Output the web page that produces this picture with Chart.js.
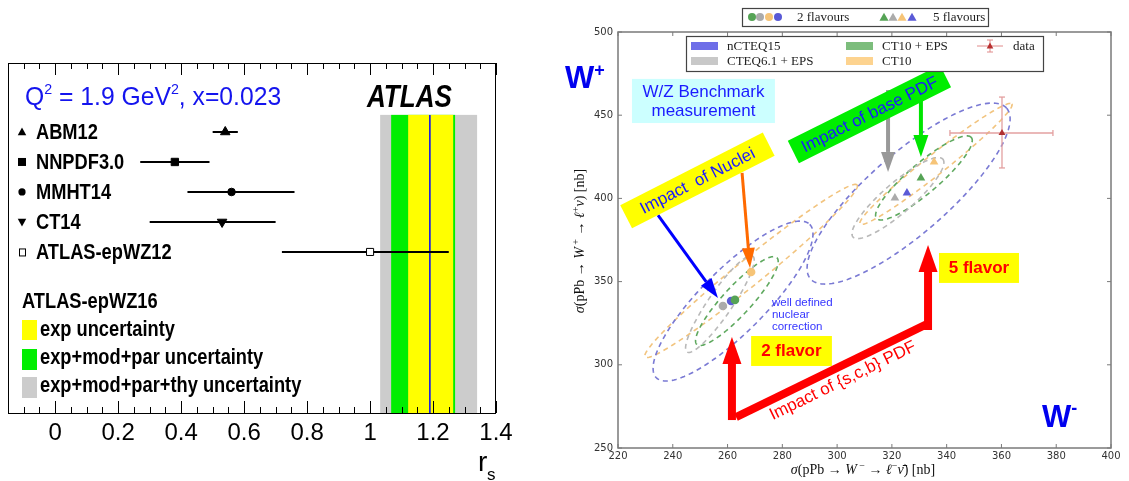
<!DOCTYPE html>
<html><head><meta charset="utf-8">
<script src="https://cdn.jsdelivr.net/npm/chart.js@4.4.1/dist/chart.umd.min.js"></script>
<style>
html,body{margin:0;padding:0;background:#fff;width:1129px;height:481px;overflow:hidden}
#l{position:absolute;left:0;top:0;width:520px;height:481px}
#r{position:absolute;left:560px;top:0;width:569px;height:481px}
canvas{display:block}
</style></head><body>
<div id="l"><canvas id="cl" width="520" height="481"></canvas></div>
<div id="r"><canvas id="cr" width="569" height="481"></canvas></div>
<script>
// ---------- LEFT PANEL DATA (r_s) ----------
const models = ['ABM12','NNPDF3.0','MMHT14','CT14','ATLAS-epWZ12'];
const rsCentral = [0.54, 0.38, 0.56, 0.53, 1.00];
const rsLow     = [0.50, 0.27, 0.42, 0.30, 0.72];
const rsHigh    = [0.58, 0.49, 0.76, 0.70, 1.25];
const rsFit = 1.19;
const bandExp    = [1.121, 1.264];
const bandModPar = [1.067, 1.270];
const bandThy    = [1.032, 1.340];
const bandTopRow = -0.57;
const rsTicks = [0, 0.2, 0.4, 0.6, 0.8, 1, 1.2, 1.4];
const rsTickLabels = ['0','0.2','0.4','0.6','0.8','1','1.2','1.4'];

// ---------- RIGHT PANEL DATA (W+ vs W-) ----------
const pdfNames = ['nCTEQ15','CTEQ6.1 + EPS','CT10 + EPS','CT10'];
const xs2fl = [261.3, 258.3, 262.7, 268.6];
const ys2fl = [338.3, 335.3, 339.0, 355.8];
const xs5fl = [325.5, 321.1, 330.6, 335.4];
const ys5fl = [403.2, 400.2, 412.3, 421.9];
const dataXY = [360.2, 439.3];
const dataXRange = [341.2, 378.8];
const dataYRange = [418.3, 460.9];
// ellipse contours: centre, conjugate half-axis vectors A and B (data units)
const ell2CX = [262.0, 257.2, 263.4, 268.6];
const ell2CY = [338.3, 336.5, 338.3, 356.4];
const ell2AX = [28.0, 12.0, 14.6, 38.7];
const ell2AY = [46.1, 28.8, 26.1, 51.7];
const ell2BX = [8.25, 3.6, 3.8, 3.0];
const ell2BY = [-13.6, -4.1, -5.7, -6.1];
const ell5CX = [326.1, 322.2, 331.7, 336.1];
const ell5CY = [402.9, 400.2, 412.3, 420.7];
const ell5AX = [35.8, 16.4, 17.3, 27.7];
const ell5AY = [51.3, 23.4, 24.3, 36.1];
const ell5BX = [9.6, 3.6, 3.5, 2.3];
const ell5BY = [-18.1, -6.8, -6.9, -4.7];
const wmTicks = [220,240,260,280,300,320,340,360,380,400];
const wpTicks = [250,300,350,400,450,500];

// colours per PDF (nCTEQ15, CTEQ6.1+EPS, CT10+EPS, CT10)
const ptColors   = ['#5a5ad6','#ababab','#55a355','#f6c477'];
const ellColors  = ['#7a7ad4','#b9b9b9','#5fa95f','#f2c47f'];
const legColors  = ['#6e6ee8','#c8c8c8','#7cbd7c','#fdd38f'];

// ---------- helpers ----------
function txt(ctx, s, x, y, font, color, o) {
  o = o || {};
  ctx.save(); ctx.font = font; ctx.fillStyle = color;
  ctx.textAlign = o.align || 'left'; ctx.textBaseline = o.base || 'middle';
  ctx.translate(x, y);
  if (o.rot) ctx.rotate(o.rot * Math.PI / 180);
  if (o.sx) ctx.scale(o.sx, 1);
  ctx.fillText(s, 0, 0); ctx.restore();
}
function rich(ctx, segs, x, y, color, o) {
  o = o || {};
  ctx.save(); ctx.fillStyle = color; ctx.textBaseline = 'alphabetic';
  ctx.translate(x, y);
  if (o.rot) ctx.rotate(o.rot * Math.PI / 180);
  if (o.sx) ctx.scale(o.sx, 1);
  let w = 0;
  segs.forEach(s => { ctx.font = s[1]; w += ctx.measureText(s[0]).width; });
  let cx = o.align === 'center' ? -w / 2 : 0;
  segs.forEach(s => { ctx.font = s[1]; ctx.fillText(s[0], cx, s[2] || 0); cx += ctx.measureText(s[0]).width; });
  ctx.restore();
}
function arrow(ctx, x1, y1, x2, y2, color, lw, hl, hw) {
  const a = Math.atan2(y2 - y1, x2 - x1);
  const bx = x2 - hl * Math.cos(a), by = y2 - hl * Math.sin(a);
  ctx.save(); ctx.strokeStyle = color; ctx.fillStyle = color; ctx.lineWidth = lw; ctx.setLineDash([]);
  ctx.beginPath(); ctx.moveTo(x1, y1); ctx.lineTo(bx, by); ctx.stroke();
  ctx.beginPath(); ctx.moveTo(x2, y2);
  ctx.lineTo(bx + hw * Math.sin(a), by - hw * Math.cos(a));
  ctx.lineTo(bx - hw * Math.sin(a), by + hw * Math.cos(a));
  ctx.closePath(); ctx.fill(); ctx.restore();
}
function rotBox(ctx, cx, cy, w, h, ang, fill, s, font, color) {
  ctx.save(); ctx.translate(cx, cy); ctx.rotate(ang * Math.PI / 180);
  ctx.fillStyle = fill; ctx.fillRect(-w / 2, -h / 2, w, h);
  ctx.font = font; ctx.fillStyle = color; ctx.textAlign = 'center'; ctx.textBaseline = 'middle';
  ctx.fillText(s, 0, 1); ctx.restore();
}
function tri(ctx, x, y, r, color, down) {
  ctx.save(); ctx.fillStyle = color; ctx.beginPath();
  const s = down ? -1 : 1;
  ctx.moveTo(x, y - s * r); ctx.lineTo(x + r * 0.95, y + s * r * 0.7); ctx.lineTo(x - r * 0.95, y + s * r * 0.7);
  ctx.closePath(); ctx.fill(); ctx.restore();
}
function line(ctx, x1, y1, x2, y2) { ctx.beginPath(); ctx.moveTo(x1, y1); ctx.lineTo(x2, y2); ctx.stroke(); }

const SANS = 'Liberation Sans, Arial, sans-serif';
const SERIF = 'Liberation Serif, DejaVu Serif, serif';

// ---------- LEFT CHART ----------
const leftPlugin = {
  id: 'leftDeco',
  beforeDatasetsDraw(chart) {
    const { ctx, chartArea: a, scales: { x, y } } = chart;
    const top = y.getPixelForValue(bandTopRow);
    const band = (r, c) => { const x1 = x.getPixelForValue(r[0]), x2 = x.getPixelForValue(r[1]); ctx.fillStyle = c; ctx.fillRect(x1, top, x2 - x1, a.bottom - top); };
    ctx.save();
    band(bandThy, '#cccccc'); band(bandModPar, '#00ee00'); band(bandExp, '#ffff00');
    ctx.strokeStyle = '#0000ff'; ctx.lineWidth = 1.5;
    const fx = x.getPixelForValue(rsFit); line(ctx, fx, top, fx, a.bottom);
    ctx.strokeStyle = '#000'; ctx.lineWidth = 2;
    models.forEach((m, i) => { const yy = y.getPixelForValue(i); line(ctx, x.getPixelForValue(rsLow[i]), yy, x.getPixelForValue(rsHigh[i]), yy); });
    ctx.restore();
  },
  afterDraw(chart) {
    const { ctx, chartArea: a, scales: { x, y } } = chart;
    ctx.save();
    ctx.strokeStyle = '#000'; ctx.lineWidth = 1;
    ctx.strokeRect(a.left + 0.5, a.top + 0.5, a.right - a.left - 1, a.bottom - a.top);
    // ticks
    for (let k = 0; k <= 31; k++) {
      const v = -0.15 + 0.05 * k; if (v > 1.4001) break;
      const major = Math.abs(v / 0.2 - Math.round(v / 0.2)) < 1e-6;
      const len = major ? 12 : 6; const px = Math.round(x.getPixelForValue(v)) + 0.5;
      line(ctx, px, a.bottom, px, a.bottom - len); line(ctx, px, a.top, px, a.top + len);
    }
    // title
    rich(ctx, [['Q', '26px ' + SANS], ['2', '15px ' + SANS, -11], [' = 1.9 GeV', '26px ' + SANS], ['2', '15px ' + SANS, -11], [', x=0.023', '26px ' + SANS]], 25, 105, '#1414ee', { sx: 0.95 });
    txt(ctx, 'ATLAS', 367, 98, 'italic bold 31px ' + SANS, '#000', { sx: 0.84 });
    // row labels + marker glyphs
    const bf = 'bold 22px ' + SANS;
    models.forEach((m, i) => {
      const yy = y.getPixelForValue(i);
      txt(ctx, m, 36, yy + 1, bf, '#000', { sx: 0.83 });
    });
    let yy = y.getPixelForValue(0); tri(ctx, 22, yy, 4.5, '#000');
    yy = y.getPixelForValue(1); ctx.fillStyle = '#000'; ctx.fillRect(18, yy - 4, 8, 8);
    yy = y.getPixelForValue(2); ctx.beginPath(); ctx.arc(22, yy, 3.6, 0, 7); ctx.fill();
    yy = y.getPixelForValue(3); tri(ctx, 22, yy, 4.5, '#000', true);
    yy = y.getPixelForValue(4); ctx.fillStyle = '#fff'; ctx.fillRect(19, yy - 3.5, 6, 7); ctx.strokeRect(19.5, yy - 3, 6, 7);
    // legend
    txt(ctx, 'ATLAS-epWZ16', 22, 302, bf, '#000', { sx: 0.83 });
    ctx.fillStyle = '#ffff00'; ctx.fillRect(22, 320, 15, 20);
    ctx.fillStyle = '#00ee00'; ctx.fillRect(22, 349, 15, 21);
    ctx.fillStyle = '#cccccc'; ctx.fillRect(22, 377, 15, 21);
    txt(ctx, 'exp uncertainty', 40, 330, bf, '#000', { sx: 0.83 });
    txt(ctx, 'exp+mod+par uncertainty', 40, 358, bf, '#000', { sx: 0.83 });
    txt(ctx, 'exp+mod+par+thy uncertainty', 40, 386, bf, '#000', { sx: 0.83 });
    // axis title r_s
    txt(ctx, 'r', 478, 471, '28px ' + SANS, '#000', { base: 'alphabetic' });
    txt(ctx, 's', 487, 480, '17px ' + SANS, '#000', { base: 'alphabetic' });
    ctx.restore();
  }
};

new Chart(document.getElementById('cl'), {
  type: 'scatter',
  data: { datasets: [{
    data: models.map((m, i) => ({ x: rsCentral[i], y: i })),
    pointStyle: ['triangle', 'rect', 'circle', 'triangle', 'rect'],
    pointRotation: [0, 0, 0, 180, 0],
    pointRadius: [5.5, 5.2, 3.8, 5.5, 5],
    pointBackgroundColor: ['#000', '#000', '#000', '#000', '#fff'],
    pointBorderColor: '#000', pointBorderWidth: 1
  }] },
  options: {
    responsive: false, animation: false, events: [],
    layout: { padding: { left: 8, right: 24, top: 63, bottom: 0 } },
    plugins: { legend: { display: false }, tooltip: { enabled: false } },
    scales: {
      x: { type: 'linear', min: -0.15, max: 1.4,
        afterBuildTicks: s => { s.ticks = rsTicks.map(v => ({ value: v })); },
        afterFit: s => { s.height = 68; },
        grid: { display: false, drawTicks: false }, border: { display: false },
        ticks: { padding: 6, color: '#000', font: { size: 24, family: SANS }, maxRotation: 0, autoSkip: false,
          callback: (v, i) => rsTickLabels[i] } },
      y: { type: 'linear', display: false, min: -2.3, max: 9.37, reverse: true }
    }
  },
  plugins: [leftPlugin]
});

// ---------- RIGHT CHART ----------
function drawEll(ctx, xs, ys, cx, cy, ax, ay, bx, by) {
  ctx.beginPath();
  const n = 180;
  for (let k = 0; k <= n; k++) {
    const t = 2 * Math.PI * k / n;
    const X = xs.getPixelForValue(cx + ax * Math.cos(t) + bx * Math.sin(t));
    const Y = ys.getPixelForValue(cy + ay * Math.cos(t) + by * Math.sin(t));
    if (k) ctx.lineTo(X, Y); else ctx.moveTo(X, Y);
  }
  ctx.closePath(); ctx.stroke();
}

const rightPlugin = {
  id: 'rightDeco',
  beforeDatasetsDraw(chart) {
    const { ctx, chartArea: a, scales: { x, y } } = chart;
    ctx.save();
    ctx.beginPath(); ctx.rect(a.left, a.top, a.right - a.left, a.bottom - a.top); ctx.clip();
    ctx.lineWidth = 1.6; ctx.setLineDash([5, 4]);
    [3, 0, 2, 1].forEach(i => {
      ctx.strokeStyle = ellColors[i];
      drawEll(ctx, x, y, ell2CX[i], ell2CY[i], ell2AX[i], ell2AY[i], ell2BX[i], ell2BY[i]);
      drawEll(ctx, x, y, ell5CX[i], ell5CY[i], ell5AX[i], ell5AY[i], ell5BX[i], ell5BY[i]);
    });
    ctx.setLineDash([]);
    // data error bars
    ctx.strokeStyle = '#e3a0a0'; ctx.lineWidth = 1.3;
    const dx = x.getPixelForValue(dataXY[0]), dy = y.getPixelForValue(dataXY[1]);
    const x1 = x.getPixelForValue(dataXRange[0]), x2 = x.getPixelForValue(dataXRange[1]);
    const y1 = y.getPixelForValue(dataYRange[0]), y2 = y.getPixelForValue(dataYRange[1]);
    line(ctx, x1, dy, x2, dy); line(ctx, dx, y1, dx, y2);
    line(ctx, x1, dy - 3, x1, dy + 3); line(ctx, x2, dy - 3, x2, dy + 3);
    line(ctx, dx - 3, y1, dx + 3, y1); line(ctx, dx - 3, y2, dx + 3, y2);
    ctx.restore();
  },
  afterDatasetsDraw(chart) {
    const { ctx, scales: { x, y } } = chart;
    const X = v => x.getPixelForValue(v), Y = v => y.getPixelForValue(v);
    ctx.save();
    // arrows
    arrow(ctx, X(318.6), Y(465.1), X(318.6), Y(415.9), '#999999', 4, 20, 7);
    arrow(ctx, X(330.6), Y(459.1), X(330.6), Y(424.9), '#00e600', 4, 22, 7.5);
    arrow(ctx, X(265.3), Y(415.3), X(268.2), Y(358.2), '#ff6a00', 3, 20, 6.5);
    arrow(ctx, X(234.6), Y(390.0), X(256.5), Y(340.1), '#0000ff', 3, 20, 6.5);
    // red {s,c,b} path
    ctx.strokeStyle = '#ff0000'; ctx.lineWidth = 8; ctx.lineCap = 'butt';
    line(ctx, X(263.1), Y(268.6), X(333.5), Y(325.1));
    arrow(ctx, X(261.6), Y(266.8), X(261.6), Y(316.7), '#ff0000', 8, 27, 9.5);
    arrow(ctx, X(333.2), Y(320.9), X(333.2), Y(372.0), '#ff0000', 8, 27, 9.5);
    // boxes with text
    ctx.fillStyle = '#ccffff';
    ctx.fillRect(X(225.1), Y(471.8), X(277.3) - X(225.1), Y(445.3) - Y(471.8));
    txt(ctx, 'W/Z Benchmark', X(251.2), Y(463.9), '17px ' + SANS, '#1a1aff', { align: 'center' });
    txt(ctx, 'measurement', X(251.2), Y(452.5), '17px ' + SANS, '#1a1aff', { align: 'center' });
    rotBox(ctx, X(311.8), Y(450.7), 170, 25, -26.5, '#00ee00', 'Impact of base PDF', '17px ' + SANS, '#1a1aff');
    rotBox(ctx, X(249.0), Y(410.8), 160, 26, -27, '#ffff00', 'Impact  of Nuclei', '17px ' + SANS, '#1a1aff');
    ctx.fillStyle = '#ffff00';
    ctx.fillRect(X(268.6), Y(317.3), X(298.1) - X(268.6), Y(299.3) - Y(317.3));
    ctx.fillRect(X(337.2), Y(367.2), X(366.4) - X(337.2), Y(349.2) - Y(367.2));
    txt(ctx, '2 flavor', X(283.3), Y(308.3), 'bold 17px ' + SANS, '#ff0000', { align: 'center' });
    txt(ctx, '5 flavor', X(351.8), Y(358.2), 'bold 17px ' + SANS, '#ff0000', { align: 'center' });
    txt(ctx, 'Impact of {s,c,b} PDF', X(302.1), Y(290.3), '17px ' + SANS, '#ff0000', { align: 'center', rot: -26 });
    const wf = '11.5px ' + SANS;
    txt(ctx, 'well defined', X(276.2), Y(337.1), wf, '#3535ff');
    txt(ctx, 'nuclear', X(276.2), Y(330.0), wf, '#3535ff');
    txt(ctx, 'correction', X(276.2), Y(322.7), wf, '#3535ff');
    // W labels
    rich(ctx, [['W', 'bold 31px ' + SANS], ['+', 'bold 18px ' + SANS, -12]], X(200.65), Y(466.35), '#0000ee');
    rich(ctx, [['W', 'bold 31px ' + SANS], ['-', 'bold 18px ' + SANS, -13]], X(374.8), Y(262.6), '#0000ee');
    ctx.restore();
  },
  afterDraw(chart) {
    const { ctx, chartArea: a, scales: { x, y } } = chart;
    ctx.save();
    ctx.strokeStyle = '#7a7a7a'; ctx.lineWidth = 1.5;
    ctx.strokeRect(a.left, a.top, a.right - a.left, a.bottom - a.top);
    ctx.lineWidth = 1;
    wmTicks.forEach(v => { const p = x.getPixelForValue(v); line(ctx, p, a.bottom, p, a.bottom - 4); line(ctx, p, a.top, p, a.top + 4); });
    wpTicks.forEach(v => { const p = y.getPixelForValue(v); line(ctx, a.left, p, a.left + 4, p); line(ctx, a.right, p, a.right - 4, p); });
    // axis titles
    const rm = '14px ' + SERIF, it = 'italic 14px ' + SERIF, sp = '10px ' + SERIF;
    rich(ctx, [['σ', it], ['(pPb', rm], [' → ', rm], ['W', it], [' −', sp, -5], [' → ', rm], ['ℓ', it], ['−', sp, -5], ['ν̄', it], [') [nb]', rm]],
      303, 474, '#111', { align: 'center' });
    rich(ctx, [['σ', it], ['(pPb', rm], [' → ', rm], ['W', it], [' +', sp, -5], [' → ', rm], ['ℓ', it], ['+', sp, -5], ['ν', it], [') [nb]', rm]],
      24, 241, '#111', { align: 'center', rot: -90 });
    // top legend (flavours)
    const lx = -560;
    ctx.fillStyle = '#fff'; ctx.fillRect(742 + lx, 8, 246, 18);
    ctx.strokeStyle = '#444'; ctx.lineWidth = 1.2; ctx.strokeRect(742.5 + lx, 8.5, 246, 18);
    const ord = [2, 1, 3, 0];
    [752, 760, 769, 778].forEach((px, k) => { ctx.fillStyle = ptColors[ord[k]]; ctx.beginPath(); ctx.arc(px + lx, 17, 4, 0, 7); ctx.fill(); });
    [884, 893, 902, 912].forEach((px, k) => tri(ctx, px + lx, 17.5, 4.8, ptColors[ord[k]]));
    txt(ctx, '2 flavours', 797 + lx, 17.5, '13px ' + SERIF, '#222');
    txt(ctx, '5 flavours', 933 + lx, 17.5, '13px ' + SERIF, '#222');
    // inner legend (PDFs)
    ctx.fillStyle = '#fff'; ctx.fillRect(686 + lx, 36, 357, 35);
    ctx.strokeStyle = '#444'; ctx.strokeRect(686.5 + lx, 36.5, 357, 35);
    const cols = [[691, 46, 0], [691, 61, 1], [846, 46, 2], [846, 61, 3]];
    cols.forEach(c => {
      ctx.fillStyle = legColors[c[2]]; ctx.fillRect(c[0] + lx, c[1] - 4, 27, 8);
      txt(ctx, pdfNames[c[2]], c[0] + 36 + lx, c[1] + 0.5, '13px ' + SERIF, '#222');
    });
    ctx.strokeStyle = '#e08a8a'; ctx.lineWidth = 1;
    line(ctx, 977 + lx, 46, 1003 + lx, 46); line(ctx, 990 + lx, 40, 990 + lx, 52);
    line(ctx, 987 + lx, 40, 993 + lx, 40); line(ctx, 987 + lx, 52, 993 + lx, 52);
    tri(ctx, 990 + lx, 46, 3.5, '#b83030');
    txt(ctx, 'data', 1013 + lx, 46.5, '13px ' + SERIF, '#222');
    ctx.restore();
  }
};

new Chart(document.getElementById('cr'), {
  type: 'scatter',
  data: { datasets: [
    { label: '2 flavours', data: xs2fl.map((v, i) => ({ x: v, y: ys2fl[i] })), pointStyle: 'circle', pointRadius: 4.3,
      pointBackgroundColor: ptColors, pointBorderWidth: 0 },
    { label: '5 flavours', data: xs5fl.map((v, i) => ({ x: v, y: ys5fl[i] })), pointStyle: 'triangle', pointRadius: 5,
      pointBackgroundColor: ptColors, pointBorderWidth: 0 },
    { label: 'data', data: [{ x: dataXY[0], y: dataXY[1] }], pointStyle: 'triangle', pointRadius: 4,
      pointBackgroundColor: '#b03030', pointBorderWidth: 0 }
  ] },
  options: {
    responsive: false, animation: false, events: [],
    layout: { padding: { left: 0, right: 18, top: 32, bottom: 0 } },
    plugins: { legend: { display: false }, tooltip: { enabled: false } },
    scales: {
      x: { type: 'linear', min: 220, max: 400,
        afterBuildTicks: s => { s.ticks = wmTicks.map(v => ({ value: v })); },
        afterFit: s => { s.height = 33; },
        grid: { display: false, drawTicks: false }, border: { display: false },
        ticks: { padding: 2, color: '#333', font: { size: 10, family: 'DejaVu Sans' }, maxRotation: 0, autoSkip: false } },
      y: { type: 'linear', min: 250, max: 500,
        afterBuildTicks: s => { s.ticks = wpTicks.map(v => ({ value: v })); },
        afterFit: s => { s.width = 58; },
        grid: { display: false, drawTicks: false }, border: { display: false },
        ticks: { padding: 5, color: '#333', font: { size: 10, family: 'DejaVu Sans' }, autoSkip: false } }
    }
  },
  plugins: [rightPlugin]
});
</script>
</body></html>
